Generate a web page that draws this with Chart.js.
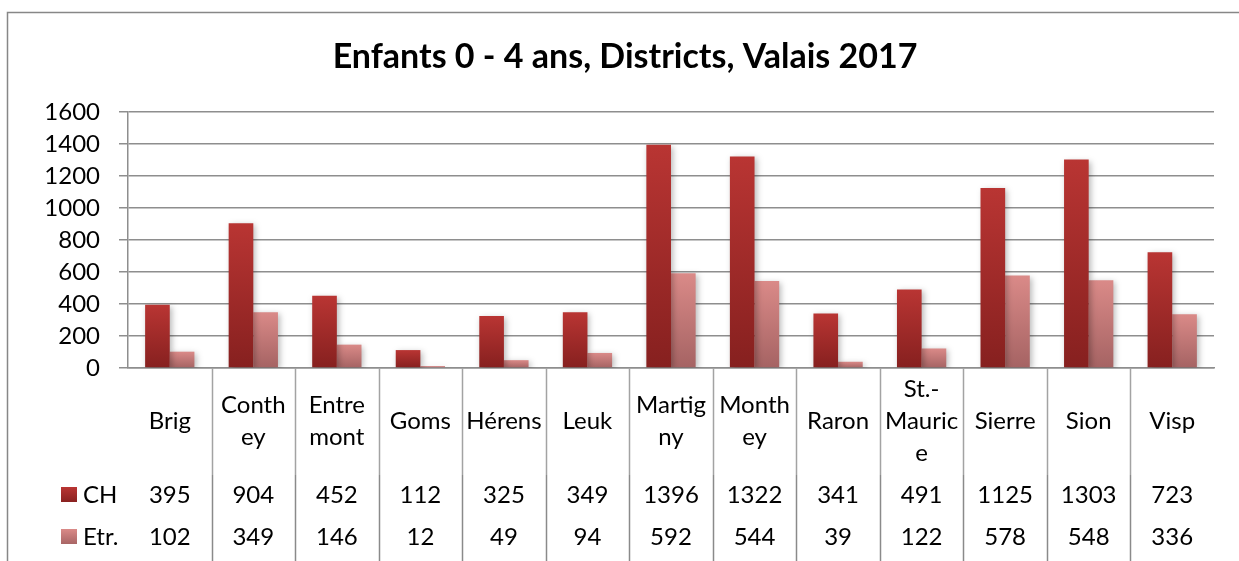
<!DOCTYPE html>
<html>
<head>
<meta charset="utf-8">
<script src="https://cdn.jsdelivr.net/npm/chart.js@4.4.1/dist/chart.umd.min.js"></script>
<style>
  html, body { margin: 0; padding: 0; background: #fff; }
  #wrap { width: 1239px; height: 561px; }
</style>
</head>
<body>
<div id="wrap"><canvas id="chart" width="1239" height="561"></canvas></div>
<script>
/* data */
const chartTitle = 'Enfants 0 - 4 ans, Districts, Valais 2017';
const districtLines = [
  ['Brig'], ['Conth', 'ey'], ['Entre', 'mont'], ['Goms'], ['Hérens'], ['Leuk'],
  ['Martig', 'ny'], ['Month', 'ey'], ['Raron'], ['St.-', 'Mauric', 'e'],
  ['Sierre'], ['Sion'], ['Visp']
];
const seriesNames = ['CH', 'Etr.'];
const chValues = [395, 904, 452, 112, 325, 349, 1396, 1322, 341, 491, 1125, 1303, 723];
const etrValues = [102, 349, 146, 12, 49, 94, 592, 544, 39, 122, 578, 548, 336];
const yMax = 1600;
const yStep = 200;

const FONT = 'Lato, "Open Sans", sans-serif';
const FS = 24;
const GRID = '#8e8e8e';
const chColors = ['#b93533', '#86201f'];
const etrColors = ['#da8a88', '#a56363'];

/* vertical gradient per bar, from its top down to the zero line */
function barGradient(colors) {
  return (c) => {
    if (c.type !== 'data') return colors[0];
    const chart = c.chart;
    const ys = chart.scales.y;
    if (!ys || !chart.chartArea) return colors[0];
    const top = ys.getPixelForValue(c.raw);
    const base = ys.getPixelForValue(0);
    if (!isFinite(top) || top === base) return colors[0];
    const g = chart.ctx.createLinearGradient(0, top, 0, base);
    g.addColorStop(0, colors[0]);
    g.addColorStop(1, colors[1]);
    return g;
  };
}

/* frame + title */
const framePlugin = {
  id: 'frame',
  beforeDraw(chart) {
    const ctx = chart.ctx;
    ctx.save();
    ctx.strokeStyle = '#878787';
    ctx.lineWidth = 1.5;
    ctx.beginPath();
    ctx.moveTo(7.5, chart.height);
    ctx.lineTo(7.5, 12.5);
    ctx.lineTo(chart.width, 12.5);
    ctx.stroke();

    ctx.fillStyle = '#000';
    ctx.font = 'bold 34px ' + FONT;
    ctx.textAlign = 'center';
    ctx.textBaseline = 'alphabetic';
    ctx.fillText(chartTitle, 625, 68);
    ctx.restore();
  }
};

/* soft shadow under the bars */
const shadowPlugin = {
  id: 'barShadow',
  beforeDatasetsDraw(chart) {
    const ctx = chart.ctx;
    ctx.save();
    ctx.shadowColor = 'rgba(0,0,0,0.28)';
    ctx.shadowBlur = 6;
    ctx.shadowOffsetX = 2;
    ctx.shadowOffsetY = 2;
  },
  afterDatasetsDraw(chart) {
    chart.ctx.restore();
  }
};

/* data table under the x axis */
const tablePlugin = {
  id: 'dataTable',
  afterDraw(chart) {
    const ctx = chart.ctx;
    const xs = chart.scales.x;
    const bottom = chart.height;
    const rowY = [495, 537];
    ctx.save();

    // separators between categories
    ctx.lineWidth = 1.5;
    for (let i = 1; i < districtLines.length; i++) {
      const x = Math.round((xs.getPixelForValue(i - 1) + xs.getPixelForValue(i)) / 2) + 0.5;
      ctx.strokeStyle = '#a3a3a3';
      ctx.beginPath();
      ctx.moveTo(x, xs.top);
      ctx.lineTo(x, 475);
      ctx.stroke();
      ctx.strokeStyle = '#8a8a8a';
      ctx.beginPath();
      ctx.moveTo(x, 475);
      ctx.lineTo(x, bottom);
      ctx.stroke();
    }

    // legend keys and series names
    chart.data.datasets.forEach((ds, r) => {
      const y = rowY[r];
      const cols = r === 0 ? chColors : etrColors;
      const g = ctx.createLinearGradient(0, y - 8, 0, y + 8);
      g.addColorStop(0, cols[0]);
      g.addColorStop(1, cols[1]);
      ctx.fillStyle = g;
      ctx.fillRect(61, y - 8, 16, 15);

      ctx.fillStyle = '#000';
      ctx.font = FS + 'px ' + FONT;
      ctx.textBaseline = 'middle';
      ctx.textAlign = 'left';
      ctx.fillText(ds.label, 83, y);

      ctx.textAlign = 'center';
      ds.data.forEach((v, i) => {
        ctx.fillText(String(v), xs.getPixelForValue(i), y);
      });
    });
    ctx.restore();
  }
};

new Chart(document.getElementById('chart'), {
  type: 'bar',
  data: {
    labels: districtLines,
    datasets: [
      { label: seriesNames[0], data: chValues, backgroundColor: barGradient(chColors) },
      { label: seriesNames[1], data: etrValues, backgroundColor: barGradient(etrColors) }
    ]
  },
  options: {
    responsive: false,
    animation: false,
    layout: { padding: { top: 112, right: 25, left: 0, bottom: 0 } },
    datasets: {
      bar: { categoryPercentage: 0.59, barPercentage: 1, borderWidth: 0 }
    },
    plugins: {
      legend: { display: false },
      title: { display: false },
      tooltip: { enabled: false }
    },
    scales: {
      x: {
        offset: true,
        grid: { drawOnChartArea: false, drawTicks: false },
        border: { display: true, color: GRID, width: 1.5 },
        ticks: {
          color: '#000',
          font: { family: FONT, size: FS, lineHeight: 1.33 },
          padding: 21,
          crossAlign: 'center',
          maxRotation: 0,
          autoSkip: false
        },
        afterFit(scale) { scale.height = 193; }
      },
      y: {
        min: 0,
        max: yMax,
        grid: { color: GRID, lineWidth: 1.5, tickLength: 9, tickColor: GRID },
        border: { display: true, color: GRID, width: 1.5 },
        ticks: {
          stepSize: yStep,
          color: '#000',
          font: { family: FONT, size: FS },
          padding: 19,
          callback: (v) => String(v)
        },
        afterFit(scale) { scale.width = 128; }
      }
    }
  },
  plugins: [framePlugin, shadowPlugin, tablePlugin]
});
</script>
</body>
</html>
